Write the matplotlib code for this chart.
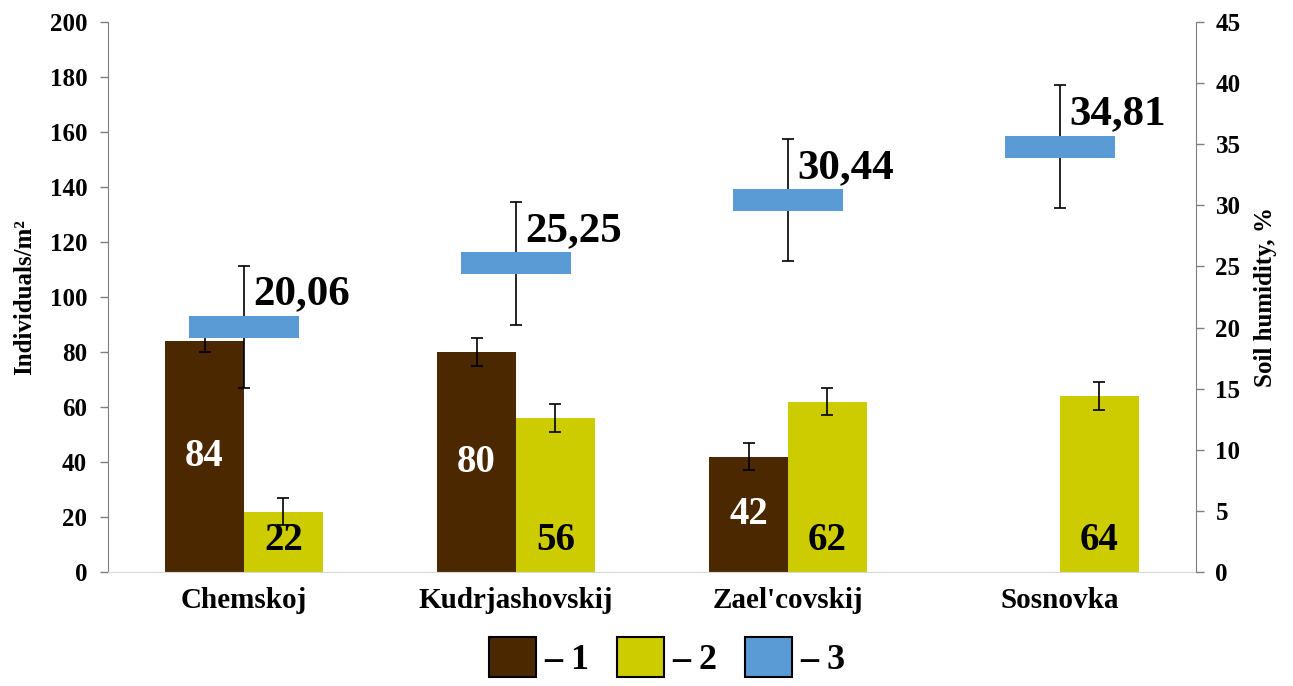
import numpy as np
import matplotlib
matplotlib.use("Agg")
import matplotlib.pyplot as plt
from matplotlib.patches import Patch

plt.rcParams['font.family'] = ['Liberation Serif', 'DejaVu Serif']
plt.rcParams['font.weight'] = 'bold'
plt.rcParams['axes.labelweight'] = 'bold'

# data ---------------------------------------------------------------
sites = ['Chemskoj', 'Kudrjashovskij', "Zael'covskij", 'Sosnovka']
dens1 = [84, 80, 42, np.nan]        # series 1, individuals/m2
dens1_err = [4, 5, 5, np.nan]
dens2 = [22, 56, 62, 64]            # series 2, individuals/m2
dens2_err = [5, 5, 5, 5]
humidity = [20.06, 25.25, 30.44, 34.81]  # series 3, soil humidity %
humidity_err = [5, 5, 5, 5]
legend_labels = ['\u2013 1', '\u2013 2', '\u2013 3']

c1, c2, c3 = '#4b2800', '#cccc00', '#5b9bd5'
axcol = '#7f7f7f'

# figure --------------------------------------------------------------
fig = plt.figure(figsize=(12.93, 6.86), dpi=100)
ax = fig.add_axes([108/1293, 1-572/686, (1196-108)/1293, (572-22)/686])
ax2 = ax.twinx()

x = np.arange(len(sites))
w = 0.29

ax.bar(x - w/2, dens1, w, color=c1, zorder=2)
ax.bar(x + w/2, dens2, w, color=c2, zorder=2)
ax.errorbar(x - w/2, dens1, yerr=dens1_err, fmt='none', ecolor='black',
            elinewidth=1.2, capsize=4, capthick=1.2, zorder=3)
ax.errorbar(x + w/2, dens2, yerr=dens2_err, fmt='none', ecolor='black',
            elinewidth=1.2, capsize=4, capthick=1.2, zorder=3)

# labels inside bars
for xi, v in zip(x, dens1):
    if np.isnan(v):
        continue
    ax.text(xi - w/2, v/2, f'{v:g}', color='white', fontsize=28,
            ha='center', va='center', zorder=4)
for xi, v in zip(x, dens2):
    ax.annotate(f'{v:g}', (xi + w/2, 0), xytext=(0, 16), textcoords='offset points',
                ha='center', va='baseline', fontsize=28, color='black', zorder=4)

# humidity markers: flat rectangles
rect = [(-1, -0.2), (1, -0.2), (1, 0.2), (-1, 0.2), (-1, -0.2)]
ax2.errorbar(x, humidity, yerr=humidity_err, fmt='none', ecolor='black',
             elinewidth=1.2, capsize=4, capthick=1.2, zorder=2)
ax2.plot(x, humidity, linestyle='none', marker=rect, markersize=79,
         markerfacecolor=c3, markeredgewidth=0, zorder=3)
for xi, v in zip(x, humidity):
    ax2.annotate(f'{v:.2f}'.replace('.', ','), (xi, v), xytext=(7, 16),
                 textcoords='offset points', ha='left', va='baseline',
                 fontsize=31, color='black')

# axes ------------------------------------------------------------------
ax.set_xlim(-0.5, len(sites) - 0.5)
ax.set_ylim(0, 200)
ax.set_yticks(range(0, 201, 20))
ax2.set_ylim(0, 45)
ax2.set_yticks(range(0, 46, 5))
ax.set_xticks(x)
ax.set_xticklabels(sites, fontsize=21)
ax.tick_params(axis='x', length=0, pad=11)
ax.tick_params(axis='y', labelsize=18, length=6, width=1, color=axcol, pad=9)
ax2.tick_params(axis='y', labelsize=18, length=6, width=1, color=axcol, pad=8)

for s in ['top', 'right']:
    ax.spines[s].set_visible(False)
for s in ['top', 'left', 'bottom']:
    ax2.spines[s].set_visible(False)
ax.spines['left'].set_color(axcol)
ax.spines['bottom'].set_color('#d9d9d9')
ax2.spines['right'].set_color(axcol)

ax.set_ylabel('Individuals/m\u00b2', fontsize=18, labelpad=10)
ax2.set_ylabel('Soil humidity, %', fontsize=18, labelpad=10)

handles = [Patch(facecolor=c, edgecolor='black', linewidth=1.5) for c in (c1, c2, c3)]
fig.legend(handles, legend_labels, loc='center', bbox_to_anchor=(0.516, 1-657/686),
           ncol=3, frameon=False, fontsize=26, handlelength=1.3, handleheight=1.35,
           handletextpad=0.25, columnspacing=0.75)

fig.savefig('out.png', dpi=100)
